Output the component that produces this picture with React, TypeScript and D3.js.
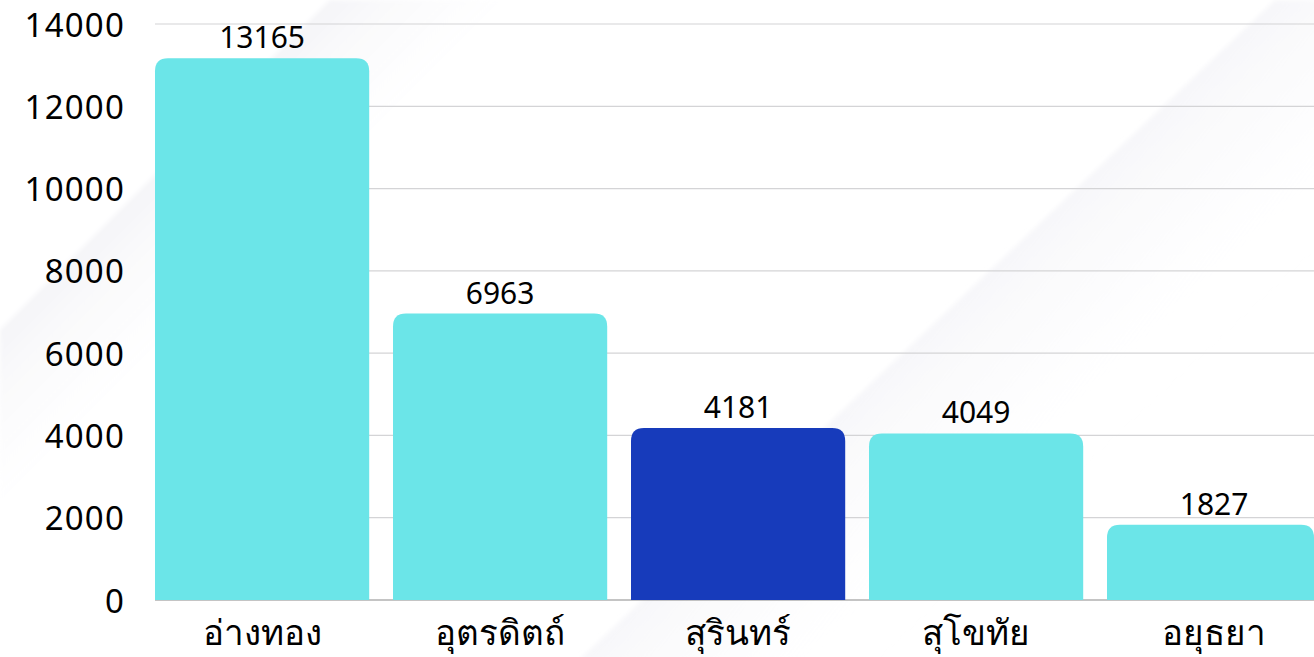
import React from 'react';
import * as d3 from 'd3';

const provinces = ['อ่างทอง', 'อุตรดิตถ์', 'สุรินทร์', 'สุโขทัย', 'อยุธยา'];
const counts = [13165, 6963, 4181, 4049, 1827];
const highlighted = ['สุรินทร์'];
const yTicks = [0, 2000, 4000, 6000, 8000, 10000, 12000, 14000];

const W = 1314;
const H = 657;
const margin = { left: 155, top: 24, bottom: 57 };
const FONT = "'Noto Sans', 'DejaVu Sans', sans-serif";

// path for a bar with rounded top corners only
const topRounded = (x: number, y: number, w: number, h: number, r: number) => {
  const rr = Math.min(r, h, w / 2);
  return `M${x},${y + h}V${y + rr}Q${x},${y} ${x + rr},${y}H${x + w - rr}Q${x + w},${y} ${x + w},${y + rr}V${y + h}Z`;
};

export default function App() {
  const x = d3.scaleBand<string>()
    .domain(provinces)
    .range([margin.left - 11.9, margin.left - 11.9 + 238 * 5])
    .paddingInner(0.1)
    .paddingOuter(0.05);

  const y = d3.scaleLinear()
    .domain([0, 14000])
    .range([H - margin.bottom, margin.top]);

  const baseY = y(0);

  return (
    <svg width={W} height={H} style={{ position: 'absolute', top: 0, left: 0, background: '#fff' }}>
      <defs>
        <linearGradient id="bgA" gradientUnits="userSpaceOnUse" x1={165} y1={165} x2={280} y2={280}>
          <stop offset="0" stopColor="#f5f5f8" />
          <stop offset="1" stopColor="#ffffff" stopOpacity={0} />
        </linearGradient>
        <linearGradient id="bgB" gradientUnits="userSpaceOnUse" x1={1100} y1={150} x2={1250} y2={310}>
          <stop offset="0" stopColor="#f6f6f9" />
          <stop offset="1" stopColor="#ffffff" stopOpacity={0} />
        </linearGradient>
        <filter id="soft" x="-20%" y="-20%" width="140%" height="140%">
          <feGaussianBlur stdDeviation="2" />
        </filter>
      </defs>

      {/* faint background shapes */}
      <g filter="url(#soft)">
        <polygon points="330,0 900,0 0,900 0,330" fill="url(#bgA)" />
        <polygon points="1275,0 1320,0 1320,660 579,660" fill="url(#bgB)" />
      </g>

      {/* gridlines */}
      {yTicks.filter(t => t > 0).map(t => (
        <line key={t} x1={margin.left} x2={W} y1={y(t)} y2={y(t)} stroke="#d4d4d6" strokeWidth={1.2} />
      ))}
      <line x1={margin.left} x2={W} y1={baseY} y2={baseY} stroke="#8a8a8a" strokeWidth={1.2} />

      {/* y tick labels */}
      {yTicks.map(t => (
        <text key={t} x={125} y={y(t)} textAnchor="end" dominantBaseline="central"
          fontFamily={FONT} fontSize={33} letterSpacing={1.2} fill="#000">{t}</text>
      ))}

      {/* bars */}
      {provinces.map((p, i) => {
        const bx = x(p) as number;
        const bw = Math.min(x.bandwidth(), W - bx);
        const top = y(counts[i]);
        return (
          <path key={p} d={topRounded(bx, top, bw, baseY - top, 13)}
            fill={highlighted.includes(p) ? '#173bbb' : '#6be5e8'} />
        );
      })}

      {/* value labels */}
      {provinces.map((p, i) => (
        <text key={p} x={(x(p) as number) + x.bandwidth() / 2} y={y(counts[i]) - 10}
          textAnchor="middle" fontFamily={FONT} fontSize={30} fill="#000">{counts[i]}</text>
      ))}

      {/* category labels */}
      {provinces.map(p => (
        <text key={p} x={(x(p) as number) + x.bandwidth() / 2} y={baseY + 45}
          textAnchor="middle" fontFamily={FONT} fontSize={35} fill="#000">{p}</text>
      ))}
    </svg>
  );
}
